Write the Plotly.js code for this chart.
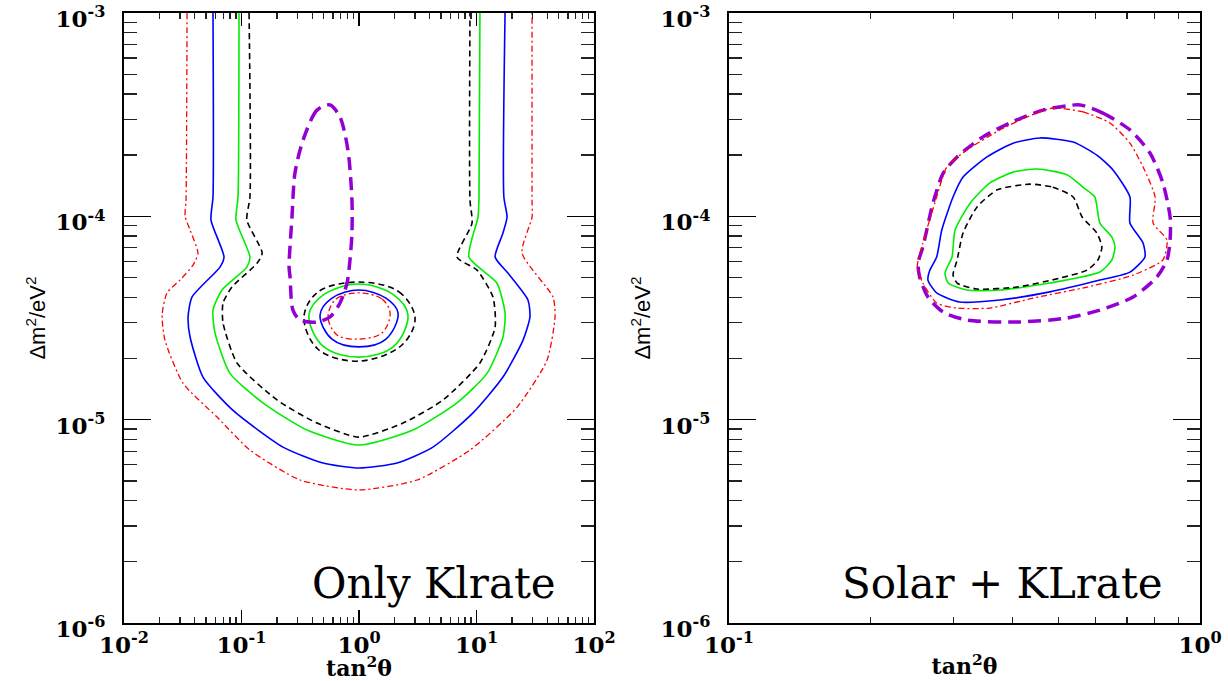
<!DOCTYPE html>
<html>
<head>
<meta charset="utf-8">
<script src="https://cdn.plot.ly/plotly-3.0.1.min.js"></script>
<style>html,body{margin:0;padding:0;background:#fff;}#chart{width:1228px;height:681px;}</style>
</head>
<body>
<div id="chart"></div>
<script>
// ---------- tick labels ----------
const xTicksLeft = [0.01, 0.1, 1, 10, 100];
const xTickTextLeft = ['10<sup>-2</sup>', '10<sup>-1</sup>', '10<sup>0</sup>', '10<sup>1</sup>', '10<sup>2</sup>'];
const xTicksRight = [0.1, 1];
const xTickTextRight = ['10<sup>-1</sup>', '10<sup>0</sup>'];
const yTicks = [1e-6, 1e-5, 1e-4, 1e-3];
const yTickText = ['10<sup>-6</sup>', '10<sup>-5</sup>', '10<sup>-4</sup>', '10<sup>-3</sup>'];
const panelLabels = ['Only Klrate', 'Solar + KLrate'];

// ---------- left panel: Only KLrate ----------
const klRedX = [0.0344,0.0337,0.0331,0.0365,0.0426,0.0387,0.0300,0.0232,0.0211,0.0223,0.0318,0.0619,0.118,0.315,1.0,3.12,8.8,22.1,39.8,46.6,44.8,24.4,29.7,29.7,29.7];
const klRedY = [1e-3,1.20e-4,1.0e-4,8.56e-5,6.60e-5,5.76e-5,4.86e-5,4.20e-5,3.27e-5,2.46e-5,1.51e-5,1.03e-5,7.09e-6,5.05e-6,4.51e-6,5.05e-6,7.09e-6,1.15e-5,1.96e-5,3.20e-5,4.01e-5,6.60e-5,9.92e-5,1.20e-4,1e-3];

const klBlueX = [0.0572,0.0572,0.0550,0.0710,0.0656,0.0379,0.0351,0.0365,0.0470,0.0847,0.2255,0.494,1.0,2.11,4.26,9.34,16.8,24.9,28.5,27.4,18.5,14.4,16.8,18.2,17.1,17.5];
const klBlueY = [1e-3,1.245e-4,9.59e-5,6.31e-5,5.63e-5,4.01e-5,3.20e-5,2.55e-5,1.62e-5,1.11e-5,7.33e-6,6.12e-6,5.78e-6,6.12e-6,7.33e-6,1.08e-5,1.62e-5,2.46e-5,3.20e-5,3.88e-5,5.26e-5,6.31e-5,8.28e-5,9.92e-5,1.245e-4,1e-3];

const klGreenX = [0.0952,0.0934,0.0898,0.118,0.111,0.0682,0.0572,0.0595,0.0798,0.152,0.361,1.0,2.88,6.82,12.3,16.8,17.5,14.9,8.63,10.3,10.5,10.7];
const klGreenY = [1e-3,1.245e-4,9.59e-5,6.31e-5,5.63e-5,4.34e-5,3.46e-5,2.67e-5,1.69e-5,1.21e-5,8.89e-6,7.50e-6,8.89e-6,1.21e-5,1.69e-5,2.55e-5,3.34e-5,4.70e-5,6.31e-5,9.92e-5,1.245e-4,1e-3];

const klBlackX = [0.116,0.118,0.111,0.150,0.136,0.083,0.0696,0.0696,0.0916,0.2005,0.439,1.0,2.37,5.19,10.7,14.4,13.8,10.1,6.82,9.16,8.8,8.8];
const klBlackY = [1e-3,1.245e-4,9.59e-5,6.60e-5,5.89e-5,4.49e-5,3.75e-5,2.99e-5,1.90e-5,1.25e-5,9.62e-6,8.21e-6,9.62e-6,1.25e-5,1.90e-5,2.85e-5,4.01e-5,5.44e-5,6.31e-5,9.27e-5,1.20e-4,1e-3];

// inner island
const isBlackX = [1.0,2.19,3.0,2.32,1.0,0.448,0.340,0.448,1.0];
const isBlackY = [4.75e-5,4.25e-5,3.16e-5,2.33e-5,1.94e-5,2.22e-5,3.20e-5,4.25e-5,4.75e-5];
const isGreenX = [1.0,1.986,2.61,1.986,1.0,0.494,0.375,0.494,1.0];
const isGreenY = [4.65e-5,4.10e-5,3.27e-5,2.30e-5,2.03e-5,2.30e-5,3.27e-5,4.10e-5,4.65e-5];
const isBlueX = [1.0,1.697,2.15,1.697,1.0,0.589,0.466,0.589,1.0];
const isBlueY = [4.34e-5,3.96e-5,3.34e-5,2.49e-5,2.28e-5,2.49e-5,3.27e-5,3.96e-5,4.34e-5];
const isRedX = [1.0,1.569,1.84,1.569,0.98,0.650,0.545,0.637,1.0];
const isRedY = [4.20e-5,3.92e-5,3.34e-5,2.67e-5,2.49e-5,2.61e-5,3.20e-5,3.92e-5,4.20e-5];

const klPurpleX = [0.5665,0.439,0.334,0.285,0.269,0.254,0.259,0.274,0.315,0.439,0.567,0.689,0.791,0.838,0.871,0.871,0.805,0.689,0.5665];
const klPurpleY = [3.53e-4,3.33e-4,2.37e-4,1.63e-4,9.92e-5,5.63e-5,5.03e-5,3.46e-5,3.09e-5,3.02e-5,3.20e-5,3.75e-5,4.70e-5,6.10e-5,8.28e-5,1.20e-4,2.12e-4,3.08e-4,3.53e-4];

// ---------- right panel: Solar + KLrate ----------
const slPurpleX = [0.556,0.622,0.710,0.783,0.834,0.864,0.864,0.851,0.810,0.721,0.613,0.522,0.409,0.320,0.285,0.2645,0.254,0.252,0.258,0.271,0.285,0.305,0.346,0.395,0.464,0.556];
const slPurpleY = [3.53e-4,3.22e-4,2.66e-4,2.05e-4,1.46e-4,9.92e-5,7.64e-5,6.10e-5,5.03e-5,4.01e-5,3.46e-5,3.16e-5,3.02e-5,3.09e-5,3.38e-5,4.01e-5,5.03e-5,5.89e-5,7.06e-5,1.16e-4,1.63e-4,1.96e-4,2.46e-4,2.88e-4,3.33e-4,3.53e-4];

const slRedX = [0.487,0.5645,0.644,0.710,0.757,0.803,0.795,0.851,0.834,0.721,0.576,0.442,0.358,0.305,0.276,0.258,0.251,0.258,0.276,0.290,0.320,0.376,0.429,0.487];
const slRedY = [3.41e-4,3.26e-4,2.88e-4,2.29e-4,1.75e-4,1.245e-4,9.27e-5,7.64e-5,6.10e-5,5.14e-5,4.49e-5,3.96e-5,3.54e-5,3.54e-5,3.75e-5,4.70e-5,5.63e-5,7.39e-5,1.245e-4,1.75e-4,2.12e-4,2.66e-4,3.08e-4,3.41e-4];

const slBlueX = [0.457,0.538,0.604,0.6535,0.710,0.710,0.757,0.764,0.710,0.613,0.480,0.376,0.309,0.276,0.2645,0.267,0.276,0.283,0.299,0.314,0.353,0.401,0.457];
const slBlueY = [2.43e-4,2.32e-4,2.00e-4,1.69e-4,1.245e-4,9.27e-5,7.39e-5,6.31e-5,5.32e-5,4.86e-5,4.25e-5,3.88e-5,3.79e-5,4.20e-5,4.86e-5,5.44e-5,6.31e-5,8.56e-5,1.245e-4,1.56e-4,1.96e-4,2.29e-4,2.43e-4];

const slGreenX = [0.451,0.522,0.5645,0.598,0.613,0.650,0.660,0.650,0.613,0.480,0.376,0.320,0.292,0.2875,0.2975,0.302,0.325,0.358,0.401,0.451];
const slGreenY = [1.71e-4,1.60e-4,1.39e-4,1.245e-4,9.27e-5,7.91e-5,7.06e-5,6.10e-5,5.32e-5,4.70e-5,4.34e-5,4.34e-5,4.70e-5,5.26e-5,6.31e-5,8.56e-5,1.16e-4,1.46e-4,1.65e-4,1.71e-4];

const slBlackX = [0.4355,0.487,0.538,0.562,0.604,0.619,0.607,0.576,0.5045,0.409,0.336,0.305,0.299,0.305,0.314,0.336,0.371,0.4355];
const slBlackY = [1.44e-4,1.39e-4,1.245e-4,9.92e-5,8.28e-5,7.06e-5,6.10e-5,5.44e-5,4.97e-5,4.49e-5,4.39e-5,4.70e-5,5.14e-5,6.10e-5,8.28e-5,1.11e-4,1.35e-4,1.44e-4];

// ---------- styles ----------
const RED = {color:'#ff0000', width:1.3, dash:'6px,3px,2px,3px'};
const BLUE = {color:'#0000ff', width:1.6};
const GREEN = {color:'#00ee00', width:1.6};
const BLACK = {color:'#000000', width:1.6, dash:'6px,4px'};
const PURPLE = {color:'#9400d3', width:3.5, dash:'13px,7px'};

function tr(x, y, line, xa, ya, smooth) {
  return {x:x, y:y, type:'scatter', mode:'lines', xaxis:xa, yaxis:ya,
    line:Object.assign({shape:'spline', smoothing: smooth==null?0.6:smooth}, line),
    hoverinfo:'skip', showlegend:false};
}

const data = [
  tr(klRedX, klRedY, RED, 'x', 'y'),
  tr(klBlueX, klBlueY, BLUE, 'x', 'y'),
  tr(klGreenX, klGreenY, GREEN, 'x', 'y'),
  tr(klBlackX, klBlackY, BLACK, 'x', 'y'),
  tr(isBlackX, isBlackY, BLACK, 'x', 'y', 1),
  tr(isGreenX, isGreenY, GREEN, 'x', 'y', 1),
  tr(isBlueX, isBlueY, BLUE, 'x', 'y', 1),
  tr(isRedX, isRedY, RED, 'x', 'y', 1),
  tr(klPurpleX, klPurpleY, PURPLE, 'x', 'y', 0.8),
  tr(slPurpleX, slPurpleY, PURPLE, 'x2', 'y2', 0.7),
  tr(slRedX, slRedY, RED, 'x2', 'y2', 0.6),
  tr(slBlueX, slBlueY, BLUE, 'x2', 'y2', 0.6),
  tr(slGreenX, slGreenY, GREEN, 'x2', 'y2', 0.6),
  tr(slBlackX, slBlackY, BLACK, 'x2', 'y2', 0.6)
];

// minor tick positions (2..9 within each decade)
function minorTicks(d0, d1) {
  const out = [];
  for (let d = d0; d < d1; d++) for (let m = 2; m <= 9; m++) out.push(m * Math.pow(10, d));
  return out;
}

const SERIF = 'DejaVu Serif, Liberation Serif, serif';
const tickFont = {family:SERIF, size:23, color:'#000', weight:'bold'};
const xTitleFont = {family:SERIF, size:22, color:'#000', weight:'bold'};
const yTitleFont = {family:'Liberation Sans, Arial, sans-serif', size:22, color:'#000'};

function xAxis(domain, range, tv, tt, minorStart, minorEnd, anchor) {
  return {
    type:'log', domain:domain, range:range, anchor:anchor,
    tickmode:'array', tickvals:tv, ticktext:tt,
    ticks:'inside', ticklen:13, tickwidth:1.5, tickcolor:'#000',
    minor:{tickmode:'array', tickvals:minorTicks(minorStart, minorEnd), ticks:'inside', ticklen:6, tickwidth:1.3, tickcolor:'#222', showgrid:false},
    showline:true, linewidth:2, linecolor:'#000', mirror:'ticks',
    showgrid:false, zeroline:false, tickfont:tickFont,
    ticklabelstandoff:0, ticklabeloverflow:'allow',
    title:{text:'tan<sup>2</sup>θ', font:xTitleFont, standoff:2}
  };
}
function yAxis(domain, anchor) {
  return {
    type:'log', domain:domain, range:[-6.0001,-2.9999], anchor:anchor,
    tickmode:'array', tickvals:yTicks, ticktext:yTickText,
    ticks:'inside', ticklen:27, tickwidth:1.5, tickcolor:'#000',
    minor:{tickmode:'array', tickvals:minorTicks(-6,-3), ticks:'inside', ticklen:13, tickwidth:1.3, tickcolor:'#222', showgrid:false},
    showline:true, linewidth:2, linecolor:'#000', mirror:'ticks',
    showgrid:false, zeroline:false, tickfont:tickFont,
    ticklabelstandoff:12, ticklabelshift:6, ticklabeloverflow:'allow',
    title:{text:'Δm<sup>2</sup>/eV<sup>2</sup>', font:yTitleFont, standoff:4}
  };
}

const layout = {
  width:1228, height:681,
  margin:{l:0, r:0, t:13, b:58},
  paper_bgcolor:'#fff', plot_bgcolor:'#fff',
  showlegend:false,
  xaxis: xAxis([124/1228, 594/1228], [-2, 2], xTicksLeft, xTickTextLeft, -2, 2, 'y'),
  yaxis: yAxis([0,1], 'x'),
  xaxis2: xAxis([729/1228, 1200/1228], [-1, 0], xTicksRight, xTickTextRight, -1, 0, 'y2'),
  yaxis2: yAxis([0,1], 'x2'),
  annotations:[
    {text:panelLabels[0], xref:'paper', yref:'paper', x:434/1228, y:0.064, xanchor:'center', yanchor:'middle', showarrow:false,
     font:{family:SERIF, size:42, color:'#000'}},
    {text:panelLabels[1], xref:'paper', yref:'paper', x:1002/1228, y:0.064, xanchor:'center', yanchor:'middle', showarrow:false,
     font:{family:SERIF, size:42, color:'#000'}}
  ]
};

Plotly.newPlot('chart', data, layout, {staticPlot:true, displayModeBar:false});
</script>
</body>
</html>
